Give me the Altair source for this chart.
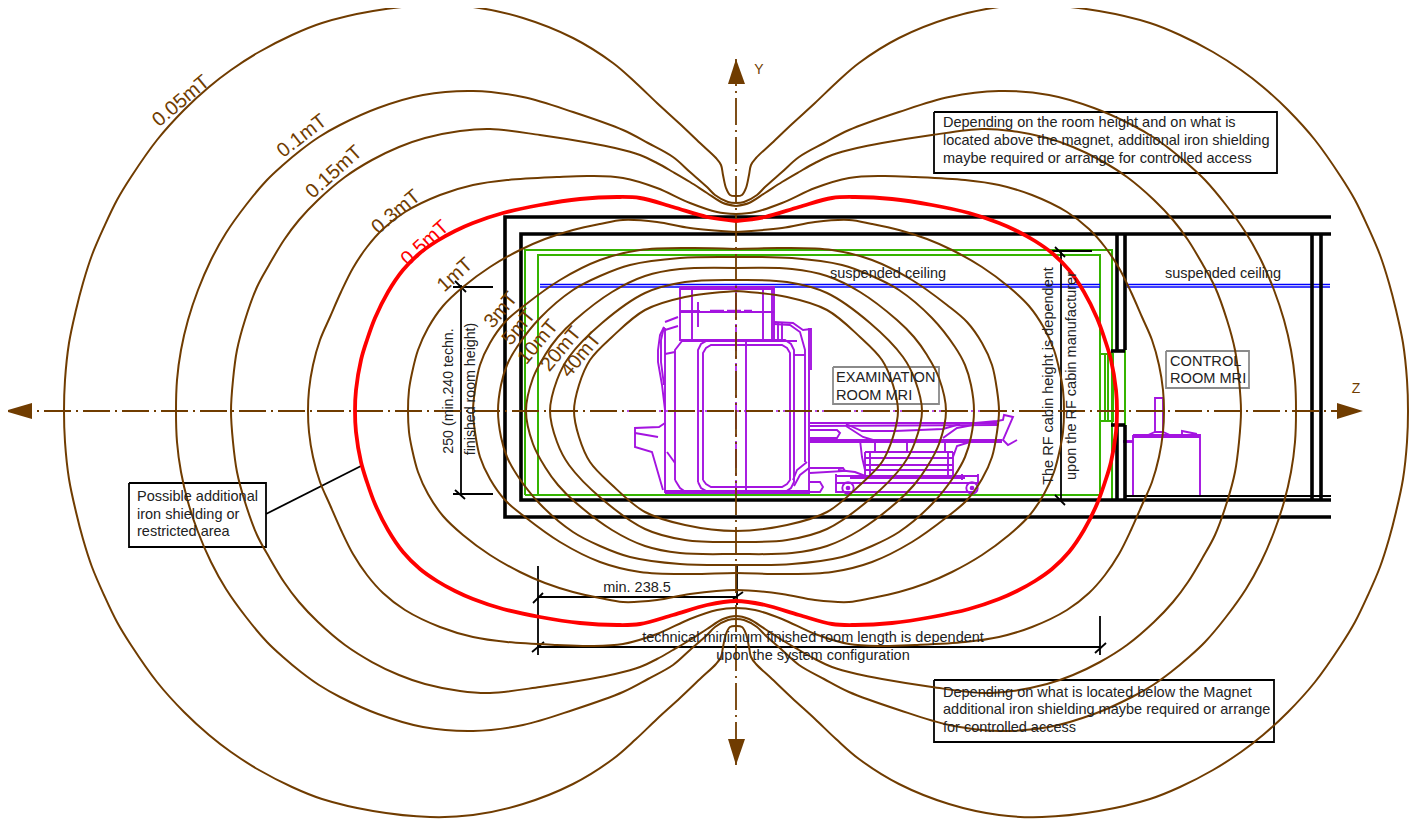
import altair as alt
import pandas as pd

BROWN = "#703c00"
PURPLE = "#a414e0"
GREEN = "#35b400"
BLUE = "#0000ff"
DARK = "#222222"
CX2, CY2 = 1472, 822   # mirror sums of the magnet axes

# top-left quadrant of each field line
c005 = [(736,196),(730,195),(726,188),(723,175),(721,165),(716,158),(700,143),(680,124),(657,103),(636,83),(613,63),(573,38),(523,18),(473,7),(430,5),(373,11),(322,23),(292,35),(259,52),(231,70),(209,87),(184,110),(157,140),(131,177),(117,200),(104,227),(92,255),(83,283),(76,310),(69,343),(65,380),(64,411)]
c01 = [(736,203),(728,202),(715,195),(707,187),(690,172),(673,157),(648,143),(623,130),(573,112),(523,97),(473,91),(423,95),(378,108),(340,125),(319,137),(301,150),(283,165),(267,180),(246,205),(226,233),(211,260),(198,290),(188,320),(181,350),(177,380),(176,411)]
c015 = [(736,206),(723,203),(707,193),(690,182),(673,172),(657,163),(640,155),(615,148),(590,143),(540,135),(490,129),(460,131),(425,138),(399,147),(372,160),(345,177),(318,200),(299,220),(284,240),(269,265),(257,287),(245,320),(237,350),(233,380),(231,411)]
c03 = [(736,214),(717,212),(690,203),(657,188),(623,178),(590,176),(557,177),(507,180),(473,185),(440,195),(405,212),(383,229),(367,247),(353,268),(341,292),(330,317),(320,340),(313,365),(309,390),(308,411)]
c05 = [(736,221),(707,217),(673,207),(640,198),(617,197),(580,199),(540,205),(503,213),(473,223),(455,231),(437,241),(420,253),(403,270),(388,292),(375,318),(367,340),(361,360),(356,390),(355,411)]
c1 = [(736,232),(690,228),(657,222),(623,220),(600,224),(573,230),(545,239),(520,250),(490,267),(463,287),(443,306),(428,328),(418,350),(412,373),(409,390),(408,411)]
c3 = [(736,249),(690,248),(640,250),(600,260),(560,280),(525,305),(505,322),(490,343),(480,365),(475,390),(473,411)]
c5 = [(736,257),(680,258),(630,265),(600,276),(573,290),(540,318),(517,347),(507,365),(501,385),(498,411)]
c10 = [(736,268),(680,269),(645,276),(612,292),(575,320),(558,337),(545,355),(533,378),(526,411)]
c20 = [(736,280),(685,282),(645,293),(602,323),(569,357),(557,380),(550,411)]
c40 = [(736,291),(685,297),(645,310),(612,337),(590,360),(579,385),(574,411)]

field_lines = [c005, c01, c015, c03, c1, c3, c5, c10, c20, c40]

walls_thick = [
    [(1331,217),(505,217),(505,517),(1331,517)],
    [(1331,234),(521,234),(521,500),(1331,500)],
    [(1117,234),(1117,350)], [(1125,234),(1125,350)], [(1111,351),(1125,351)],
    [(1111,425),(1125,425)], [(1117,425),(1117,500)], [(1125,425),(1125,500)],
    [(1312,234),(1312,500)], [(1321,234),(1321,500)],
]
walls_thin = [
    [(1125,496),(1331,496)],
    [(453,287),(493,287)], [(461,285),(461,495)], [(453,494),(493,494)], [(455,281),(466,292)], [(455,490),(465,499)],
    [(1052,251),(1092,251)], [(1061,250),(1061,500)], [(1055,247),(1065,257)], [(1055,495),(1065,505)],
    [(538,566),(538,655)], [(538,597),(737,597)], [(533,603),(543,593)], [(733,599),(743,592)], [(737,565),(737,605)],
    [(538,647),(1100,647)], [(1100,616),(1100,655)], [(1095,653),(1106,643)], [(532,652),(544,642)],
    [(266,514),(361,466)],
    [(129,483),(266,483),(266,547),(129,547),(129,483)],
    [(934,112),(1277,112),(1277,173),(934,173),(934,112)],
    [(934,680),(1274,680),(1274,742),(934,742),(934,680)],
]
grey_boxes = [
    [(833,367),(939,367),(939,404),(833,404),(833,367)],
    [(1166,351),(1249,351),(1249,388),(1166,388),(1166,351)],
]
green_lines = [
    [(525,495),(525,250),(1112,250),(1112,500)],
    [(538,495),(538,255),(1100,255),(1100,495)],
    [(525,495),(1100,495)],
    [(1101,354),(1113,354),(1113,421),(1101,421)],
    [(1105,354),(1105,421)], [(1108,354),(1108,421)], [(1125,350),(1125,425)],
]
blue_lines = [
    [(540,284.5),(1100,284.5)], [(540,287),(1100,287)],
    [(1127,284.5),(1330,284.5)], [(1127,287),(1330,287)],
]
purple_lines = [
    [(680,287),(774,287),(774,340),(680,340),(680,287)], [(680,289),(774,289)],
    [(692,288),(692,340)], [(763,288),(763,340)], [(772,288),(772,340)],
    [(680,312),(774,312)], [(680,311),(700,311)], [(698,302),(698,327)],
    [(665,328),(665,493)], [(665,493),(810,493)], [(665,491),(810,491)], [(809,328),(809,493)],
    [(811,328),(811,370)],
    [(774,322),(793,323),(803,330),(811,329)], [(774,324),(790,325),(800,332),(805,350),(805,462)],
    [(675,480),(675,350),(682,341),(797,341)], [(675,480),(680,488),(687,493)],
    [(778,322),(778,340)], [(782,322),(782,340)],
    [(665,322),(678,317)], [(665,330),(678,326)],
    [(664,327),(660,335),(658,350),(658,362),(662,385),(665,410)],
    [(664,327),(661,340),(661,362),(664,385)],
    [(665,354),(675,352)], [(805,355),(794,355)],
    [(698,482),(698,350),(701,344),(708,340),(785,340),(791,344),(794,350),(794,482),(791,488),(785,492),(708,492),(701,488),(698,482)],
    [(703,480),(703,353),(706,348),(711,345),(782,345),(787,348),(790,353),(790,480),(787,484),(782,487),(711,487),(706,484),(703,480)],
    [(746,340),(746,493)],
    [(793,480),(797,470),(807,462)], [(794,486),(800,475),(809,468)],
    [(665,423),(659,427),(635,428),(635,447),(652,452),(663,490)], [(635,433),(658,437)], [(667,452),(675,463)],
    [(810,423),(997,423)], [(810,426),(997,425)], [(810,440),(1002,440)], [(810,442),(1002,442)],
    [(846,424),(862,431),(895,431),(943,429),(960,424)], [(846,426),(863,437),(873,440)], [(943,438),(957,428),(973,425)],
    [(810,430),(837,430),(840,433),(837,438),(810,438)],
    [(975,423),(997,421),(1003,420),(1004,415),(1013,417),(1003,440),(1008,445),(1017,440)],
    [(860,440),(862,457),(865,470)], [(953,457),(957,446),(970,442),(1002,441)],
    [(865,452),(953,452)], [(865,458),(953,458)], [(865,465),(953,465)], [(865,470),(953,470)],
    [(865,452),(865,475)], [(870,452),(870,475)], [(948,452),(948,475)], [(953,452),(953,475)],
    [(875,442),(875,452)], [(907,442),(907,452)], [(945,442),(945,452)],
    [(836,476),(978,476)], [(850,478),(965,478)], [(838,470),(855,472),(868,477)],
    [(836,474),(836,493)], [(836,483),(980,483)], [(836,492),(975,492)],
    [(962,474),(962,480)], [(978,474),(978,483)],
    [(810,468),(843,468),(845,471),(810,473)], [(810,482),(820,482),(823,487),(820,492),(810,492)],
    [(1133,435),(1200,435),(1200,496),(1133,496),(1133,435)], [(1133,437),(1200,437)],
    [(1155,433),(1155,398),(1163,398),(1163,433)],
    [(1148,435),(1155,432),(1163,432),(1170,435)], [(1182,435),(1182,431),(1197,434)],
    [(1123,441),(1133,441)], [(1123,442),(1133,442)],
]
purple_dots = [(848,488),(972,488)]
axis_h = [(5,411),(1363,411)]
axis_v = [(736,59),(736,765)]
purple_axis_h = [(627,411),(1010,411)]
purple_axis_v = [(736,285),(736,495)]

arrow_up = [(728,84,84),(736,59,84),(745,84,84)]
arrow_down = [(728,739,739),(736,765,739),(745,739,739)]
arrow_left = [(403,32,32),(411,5,32),(419,32,32)]
arrow_right = [(403,1337,1337),(411,1363,1337),(419,1337,1337)]

# text, x, y, angle
brown_labels = [
    ("0.05mT",181,101,320),("0.1mT",302,136,322),("0.15mT",334,172,318),("0.3mT",396,212,320),
    ("1mT",455,275,318),("3mT",501,310,310),("5mT",519,327,310),("10mT",538,342,310),
    ("20mT",561,349,310),("40mT",581,355,310),
]
red_labels = [("0.5mT",425,243,318)]
axis_labels = [("Y",759,70,0),("Z",1356,389,0)]
center_texts = [
    ("suspended ceiling",888,274,0),("suspended ceiling",1223,274,0),
    ("min. 238.5",637,588,0),
    ("technical minimum finished room length is dependent",813,638,0),
    ("upon the system configuration",813,656,0),
]
height_texts = [("250 (min.240 techn.",449,391,270),("finished room height)",471,389,270)]
rf_texts = [("The RF cabin height is dependent",1049,376,270),("upon the RF cabin manufacturer",1072,376,270)]
left_texts = [
    ("Possible additional",137,497,0),("iron shielding or",137,515,0),("restricted area",137,532,0),
    ("Depending on the room height and on what is",943,123,0),
    ("located above the magnet, additional iron shielding",943,141,0),
    ("maybe required or arrange for controlled access",943,159,0),
    ("Depending on what is located below the Magnet",943,693,0),
    ("additional iron shielding maybe required or arrange",943,710,0),
    ("for controlled access",943,728,0),
]
room_texts = [("EXAMINATION",836,378,0),("ROOM MRI",836,396,0),("CONTROL",1170,362,0),("ROOM MRI",1170,379,0)]

W, H = 1403, 813
X = alt.Scale(domain=[8, 8 + W], nice=False, zero=False)
Y = alt.Scale(domain=[8 + H, 8], nice=False, zero=False)


def closed(q):
    bl = [(x, CY2 - y) for x, y in q]
    br = [(CX2 - x, CY2 - y) for x, y in q]
    tr = [(CX2 - x, y) for x, y in q]
    return q + bl[::-1][1:] + br[1:] + tr[::-1][1:]


def lines(paths, color, width, curve="linear", dash=None, opacity=1):
    rows = [dict(g=g, i=i, x=p[0], y=p[1]) for g, path in enumerate(paths) for i, p in enumerate(path)]
    kw = dict(color=color, strokeWidth=width, interpolate=curve, opacity=opacity)
    if dash:
        kw["strokeDash"] = dash
    return alt.Chart(pd.DataFrame(rows)).mark_line(**kw).encode(
        x=alt.X("x:Q", scale=X, axis=None),
        y=alt.Y("y:Q", scale=Y, axis=None),
        detail="g:N",
        order="i:Q",
    )


def texts(items, color, size, align="center"):
    df = pd.DataFrame(items, columns=["t", "x", "y", "a"])
    return alt.Chart(df).mark_text(color=color, fontSize=size, font="Liberation Sans", align=align, baseline="middle").encode(
        x=alt.X("x:Q", scale=X, axis=None),
        y=alt.Y("y:Q", scale=Y, axis=None),
        text="t:N",
        angle=alt.Angle("a:Q", scale=None),
    )


def arrow_vertical(pts):
    df = pd.DataFrame(pts, columns=["x", "y", "y2"])
    return alt.Chart(df).mark_area(color=BROWN, orient="vertical").encode(
        x=alt.X("x:Q", scale=X, axis=None), y=alt.Y("y:Q", scale=Y, axis=None), y2="y2:Q")


def arrow_horizontal(pts):
    df = pd.DataFrame(pts, columns=["y", "x", "x2"])
    return alt.Chart(df).mark_area(color=BROWN, orient="horizontal").encode(
        y=alt.Y("y:Q", scale=Y, axis=None), x=alt.X("x:Q", scale=X, axis=None), x2="x2:Q")


dots = pd.DataFrame(purple_dots, columns=["x", "y"])
wheel_ring = alt.Chart(dots).mark_point(shape="circle", size=130, color=PURPLE, strokeWidth=1.9, filled=False, opacity=1).encode(
    x=alt.X("x:Q", scale=X, axis=None), y=alt.Y("y:Q", scale=Y, axis=None))
wheel_hub = alt.Chart(dots).mark_point(shape="circle", size=22, color=PURPLE, filled=True, opacity=1).encode(
    x=alt.X("x:Q", scale=X, axis=None), y=alt.Y("y:Q", scale=Y, axis=None))

chart = alt.layer(
    lines(green_lines, GREEN, 2),
    lines(blue_lines, BLUE, 1.7),
    lines(purple_lines, PURPLE, 1.9),
    lines([[(710,311),(752,311)]], PURPLE, 2.4, dash=[14,3]),
    wheel_ring, wheel_hub,
    lines([purple_axis_h, purple_axis_v], PURPLE, 1.7, dash=[27,5,2,5]),
    lines(walls_thick, "#000000", 3.6),
    lines(walls_thin, "#000000", 1.8),
    lines(grey_boxes, "#8a8a8a", 1.8),
    lines([axis_h, axis_v], BROWN, 1.8, dash=[27,5,2,5]),
    arrow_vertical(arrow_up), arrow_vertical(arrow_down),
    arrow_horizontal(arrow_left), arrow_horizontal(arrow_right),
    lines([closed(q) for q in field_lines], BROWN, 2, curve="catmull-rom"),
    lines([closed(c05)], "#ff0000", 3.8, curve="catmull-rom"),
    texts(brown_labels, BROWN, 20),
    texts(red_labels, "#ff0000", 20),
    texts(axis_labels, BROWN, 14),
    texts(center_texts, DARK, 14.5),
    texts(height_texts, DARK, 14.2),
    texts(rf_texts, DARK, 14.5),
    texts(left_texts, DARK, 14.5, align="left"),
    texts(room_texts, DARK, 14.6, align="left"),
).properties(width=W, height=H, padding=0, autosize=alt.AutoSizeParams(type="none")).configure_view(stroke=None)

chart.save("out.html", embed_options={"renderer": "svg", "actions": False})
